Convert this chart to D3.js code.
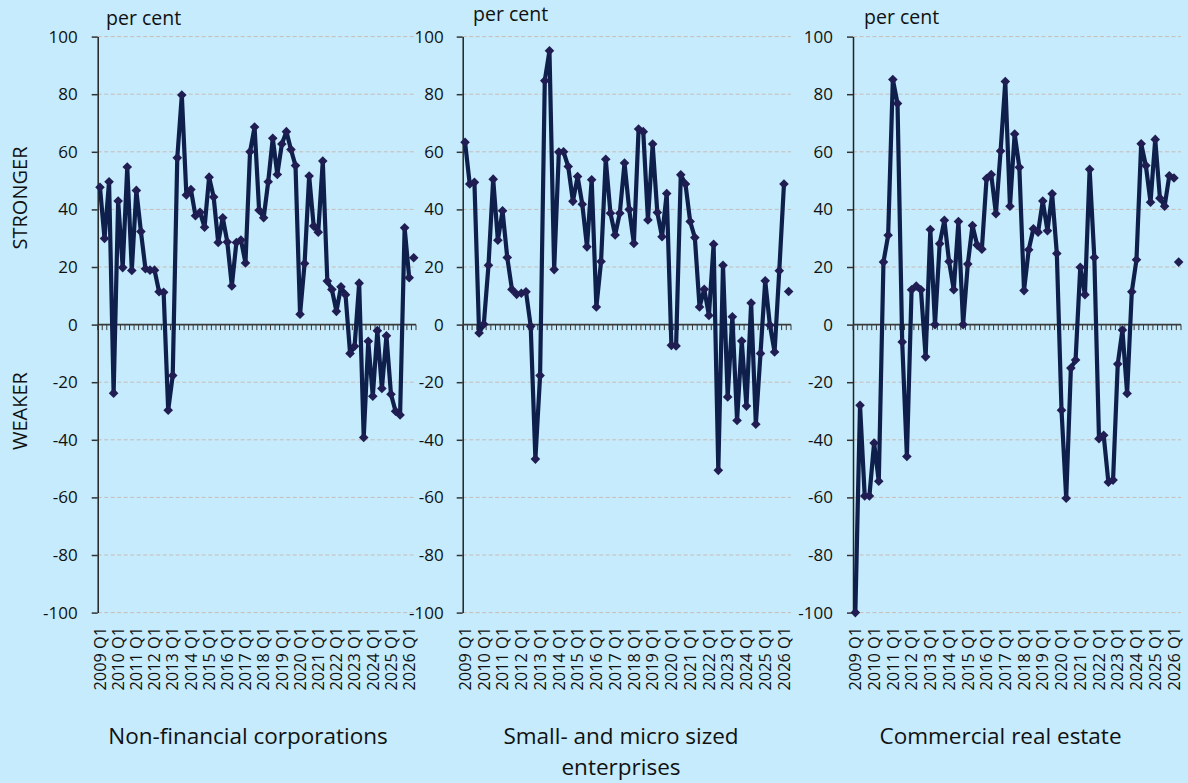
<!DOCTYPE html>
<html><head><meta charset="utf-8">
<script src="https://cdn.jsdelivr.net/npm/d3@7/dist/d3.min.js"></script>
<style>
html,body{margin:0;padding:0;background:#c5ebfc;}
svg{display:block;font-family:"Open Sans",sans-serif;}
</style></head><body>
<svg id="chart" width="1188" height="783"></svg>
<script>
// ---------- DATA ----------
const categories = [
"2009 Q1","2009 Q2","2009 Q3","2009 Q4","2010 Q1","2010 Q2","2010 Q3","2010 Q4",
"2011 Q1","2011 Q2","2011 Q3","2011 Q4","2012 Q1","2012 Q2","2012 Q3","2012 Q4",
"2013 Q1","2013 Q2","2013 Q3","2013 Q4","2014 Q1","2014 Q2","2014 Q3","2014 Q4",
"2015 Q1","2015 Q2","2015 Q3","2015 Q4","2016 Q1","2016 Q2","2016 Q3","2016 Q4",
"2017 Q1","2017 Q2","2017 Q3","2017 Q4","2018 Q1","2018 Q2","2018 Q3","2018 Q4",
"2019 Q1","2019 Q2","2019 Q3","2019 Q4","2020 Q1","2020 Q2","2020 Q3","2020 Q4",
"2021 Q1","2021 Q2","2021 Q3","2021 Q4","2022 Q1","2022 Q2","2022 Q3","2022 Q4",
"2023 Q1","2023 Q2","2023 Q3","2023 Q4","2024 Q1","2024 Q2","2024 Q3","2024 Q4",
"2025 Q1","2025 Q2","2025 Q3","2025 Q4","2026 Q1","2026 Q2"];

const tickLabels = ["2009 Q1","2010 Q1","2011 Q1","2012 Q1","2013 Q1","2014 Q1",
"2015 Q1","2016 Q1","2017 Q1","2018 Q1","2019 Q1","2020 Q1","2021 Q1","2022 Q1",
"2023 Q1","2024 Q1","2025 Q1","2026 Q1"];

const yTicks = [-100,-80,-60,-40,-20,0,20,40,60,80,100];

// Observed series (2009 Q1 - 2026 Q1)
const nonFinancial = [
47.7,29.9,49.6,-23.8,42.9,19.8,54.7,18.8,46.6,32.3,
19.4,18.9,18.9,11.4,11.2,-29.7,-17.7,57.9,79.7,45.0,
46.9,37.8,39.0,33.8,51.2,44.3,28.5,37.1,28.7,13.4,
28.5,29.4,21.4,60.0,68.6,39.7,37.1,49.6,64.7,52.1,
62.7,67.0,60.8,55.2,3.6,21.2,51.6,34.2,32.1,56.8,
15.1,12.2,4.6,13.1,10.4,-10.0,-7.5,14.4,-39.2,-5.8,
-24.9,-2.1,-22.2,-3.9,-24.2,-30.1,-31.4,33.6,16.3];
const smallMicro = [
63.3,48.8,49.4,-2.9,0.1,20.6,50.5,29.3,39.5,23.3,
12.2,10.5,10.9,11.4,-0.6,-46.7,-17.7,84.7,95.1,19.1,
59.9,60.0,54.9,42.8,51.4,41.8,27.0,50.3,6.1,21.9,
57.4,38.7,31.1,38.7,56.1,40.0,28.2,67.9,67.0,36.3,
62.7,38.9,30.5,45.5,-7.2,-7.4,52.0,48.8,35.8,30.2,
6.1,12.3,3.2,27.9,-50.6,20.6,-25.1,2.7,-33.3,-5.7,
-28.3,7.5,-34.6,-10.0,15.2,-0.2,-9.5,18.7,48.8];
const commercialRE = [
-100,-28.0,-59.5,-59.5,-41.1,-54.4,21.7,31.0,85.1,76.8,
-6.0,-45.8,12.1,13.4,12.1,-11.2,33.0,0.0,28.1,36.2,
21.9,12.1,35.8,0.0,21.0,34.4,27.6,26.2,50.7,52.1,
38.5,60.3,84.4,41.1,66.2,54.6,11.8,26.0,33.3,32.1,
42.9,32.6,45.4,24.7,-29.7,-60.3,-15.1,-12.3,19.9,10.4,
53.9,23.3,-39.6,-38.4,-54.7,-54.0,-13.7,-1.9,-23.9,11.4,
22.5,62.8,55.2,42.5,64.3,43.9,41.1,51.7,50.9];

// Expected values for next quarter (2026 Q2), shown as a lone marker
const expectedValues = [23.2, 11.5, 21.7];

const panelTitles = [
  ["Non-financial corporations"],
  ["Small- and micro sized","enterprises"],
  ["Commercial real estate"]];
const unitLabel = "per cent";
const sideLabels = ["STRONGER","WEAKER"];

// ---------- LAYOUT ----------
const series = [nonFinancial, smallMicro, commercialRE];
const panels = [
  {x0: 97.7, x1: 416, unitX: 106, unitY: 25, titleX: 248, pad: 14},
  {x0: 462.7, x1: 791, unitX: 473, unitY: 21, titleX: 621, pad: 13},
  {x0: 853, x1: 1181, unitX: 864, unitY: 24, titleX: 1000.5, pad: 14}
];
const yTop = 36.6, yBot = 612.6;

const svg = d3.select("#chart");
svg.append("rect").attr("width",1188).attr("height",783).attr("fill","#c5ebfc");

const lineColor = "#0f1f4b";
const markerColor = "#1f1d52";
const diamond = "M0,-4.8L4.8,0L0,4.8L-4.8,0Z";

panels.forEach((p, pi) => {
  const g = svg.append("g");
  const x = d3.scaleBand().domain(categories).range([p.x0, p.x1]).padding(0);
  const bw = x.bandwidth();
  const cx = c => x(c) + bw / 2;
  const y = d3.scaleLinear().domain([-100, 100]).range([yBot, yTop]);

  // grid lines
  g.append("g").selectAll("line").data(yTicks.filter(t => t !== 0)).join("line")
    .attr("x1", p.x0).attr("x2", p.x1)
    .attr("y1", d => y(d)).attr("y2", d => y(d))
    .attr("stroke", "#c8bdb8").attr("stroke-width", 1)
    .attr("stroke-dasharray", "4,2.5");

  // y axis
  const ya = g.append("g").attr("transform", `translate(${p.x0},0)`)
    .call(d3.axisLeft(y).tickValues(yTicks).tickSize(6).tickSizeOuter(0).tickPadding(p.pad)
      .tickFormat(d => String(d)));
  ya.attr("font-family", "Open Sans, sans-serif").attr("font-size", 17);
  ya.select(".domain").attr("stroke", "#222").attr("stroke-width", 1.5);
  ya.selectAll(".tick line").attr("stroke", "#333").attr("stroke-width", 1.5);
  ya.selectAll(".tick text").attr("font-size", 17).attr("fill", "#111");

  // zero line with category tick marks
  const y0 = y(0);
  g.append("line").attr("x1", p.x0).attr("x2", p.x1).attr("y1", y0).attr("y2", y0)
    .attr("stroke", "#3a3a3a").attr("stroke-width", 1.6);
  const bounds = categories.map(c => x(c)).concat([p.x1]);
  g.append("g").selectAll("line").data(bounds).join("line")
    .attr("x1", d => d).attr("x2", d => d)
    .attr("y1", y0).attr("y2", y0 + 5.5)
    .attr("stroke", "#3a3a3a").attr("stroke-width", 1);

  // x tick labels
  g.append("g").selectAll("text").data(tickLabels).join("text")
    .attr("transform", d => `translate(${cx(d)},627) rotate(-90)`)
    .attr("text-anchor", "end").attr("dy", "0.35em")
    .attr("font-size", 16.3).attr("fill", "#111").text(d => d);

  // series line
  const vals = series[pi];
  const pts = vals.map((v, i) => ({c: categories[i], v}));
  g.append("path").datum(pts)
    .attr("d", d3.line().x(d => cx(d.c)).y(d => y(d.v)))
    .attr("fill", "none").attr("stroke", lineColor).attr("stroke-width", 4.2)
    .attr("stroke-linejoin", "round");
  const allPts = pts.concat([{c: categories[vals.length], v: expectedValues[pi]}]);
  g.append("g").selectAll("path").data(allPts).join("path")
    .attr("transform", d => `translate(${cx(d.c)},${y(d.v)})`)
    .attr("d", diamond).attr("fill", markerColor);

  // unit label
  g.append("text").attr("x", p.unitX).attr("y", p.unitY)
    .attr("font-size", 19.5).attr("fill", "#111").text(unitLabel);

  // title
  const t = g.append("text").attr("text-anchor", "middle").attr("font-size", 22.5).attr("fill", "#111");
  panelTitles[pi].forEach((line, li) => {
    t.append("tspan").attr("x", p.titleX).attr("y", 744 + li * 30.5).text(line);
  });
});

// side labels
svg.append("text").attr("transform", "translate(20,198) rotate(-90)")
  .attr("text-anchor", "middle").attr("dy", "0.35em").attr("font-size", 20).attr("fill", "#111")
  .text(sideLabels[0]);
svg.append("text").attr("transform", "translate(20,411) rotate(-90)")
  .attr("text-anchor", "middle").attr("dy", "0.35em").attr("font-size", 20).attr("fill", "#111")
  .text(sideLabels[1]);
</script>
</body></html>
